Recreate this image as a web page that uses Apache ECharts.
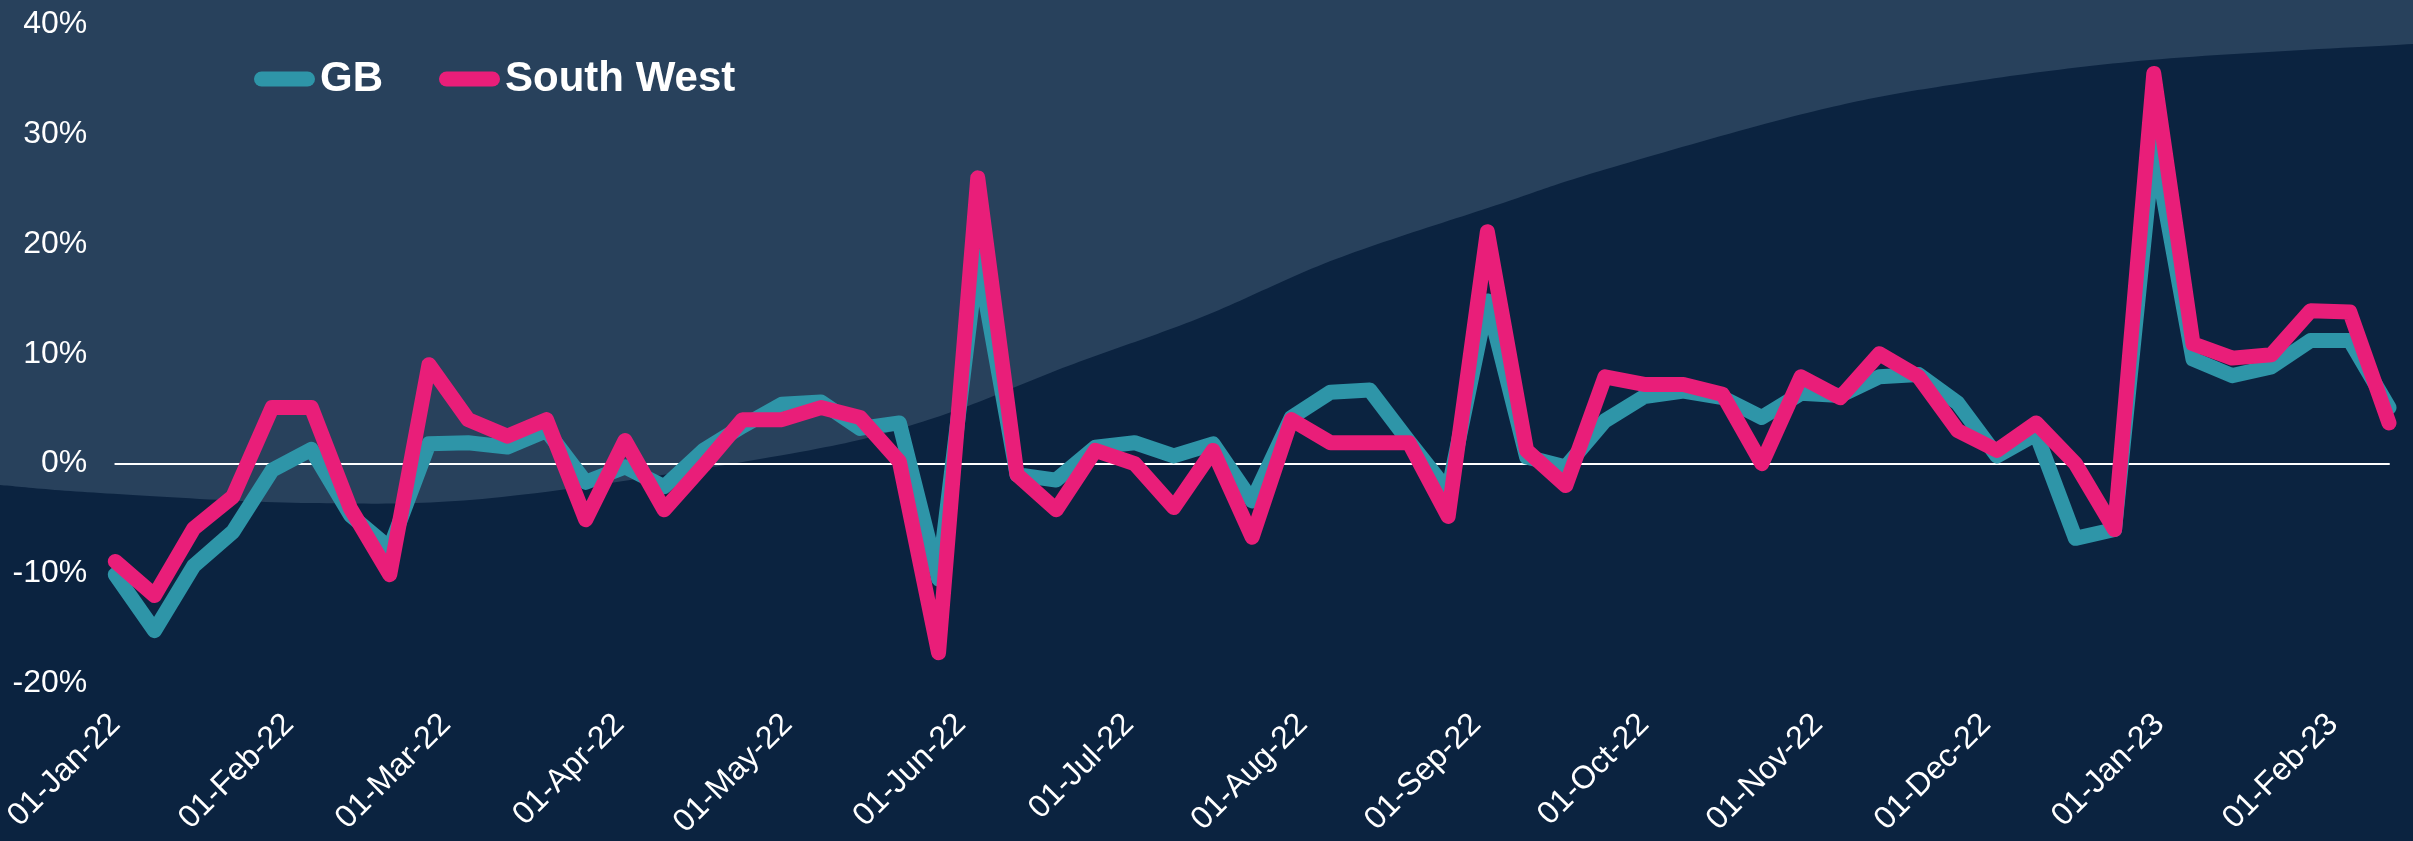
<!DOCTYPE html>
<html>
<head>
<meta charset="utf-8">
<title>GB vs South West</title>
<script src="https://cdn.jsdelivr.net/npm/echarts@6/dist/echarts.min.js"></script>
<style>
  html, body { margin: 0; padding: 0; background: #0b2340; }
  #chart { width: 2413px; height: 841px; }
</style>
</head>
<body>
<div id="chart"></div>
<script>
// weekly points
const weekDates = [
  '2022-01-01', '2022-01-08', '2022-01-15', '2022-01-22', '2022-01-29',
  '2022-02-05', '2022-02-12', '2022-02-19', '2022-02-26', '2022-03-05',
  '2022-03-12', '2022-03-19', '2022-03-26', '2022-04-02', '2022-04-09',
  '2022-04-16', '2022-04-23', '2022-04-30', '2022-05-07', '2022-05-14',
  '2022-05-21', '2022-05-28', '2022-06-04', '2022-06-11', '2022-06-18',
  '2022-06-25', '2022-07-02', '2022-07-09', '2022-07-16', '2022-07-23',
  '2022-07-30', '2022-08-06', '2022-08-13', '2022-08-20', '2022-08-27',
  '2022-09-03', '2022-09-10', '2022-09-17', '2022-09-24', '2022-10-01',
  '2022-10-08', '2022-10-15', '2022-10-22', '2022-10-29', '2022-11-05',
  '2022-11-12', '2022-11-19', '2022-11-26', '2022-12-03', '2022-12-10',
  '2022-12-17', '2022-12-24', '2022-12-31', '2023-01-07', '2023-01-14',
  '2023-01-21', '2023-01-28', '2023-02-04', '2023-02-11'
];

const gbValues = [
  -10.1, -15.2, -9.3, -6.2, -0.6,
  1.3, -4.7, -7.7, 1.8, 1.9,
  1.5, 3.0, -1.7, -0.3, -2.1,
  1.2, 3.4, 5.4, 5.6, 3.2,
  3.7, -10.5, 18.9, -1.0, -1.5,
  1.5, 1.9, 0.7, 1.8, -3.4,
  4.2, 6.5, 6.7, 2.0, -2.5,
  14.8, 0.6, -0.3, 3.9, 6.1,
  6.6, 6.0, 4.2, 6.4, 6.2,
  7.9, 8.1, 5.5, 0.7, 2.7,
  -6.8, -6.0, 29.0, 9.5, 8.0,
  8.8, 11.2, 11.2, 5.1
];

const southWestValues = [
  -8.9, -12.0, -5.9, -3.0, 5.1,
  5.1, -4.1, -10.1, 9.0, 4.0,
  2.5, 4.0, -5.1, 2.1, -4.2,
  -0.2, 4.0, 4.0, 5.1, 4.2,
  0.2, -17.2, 26.0, -1.0, -4.2,
  1.2, 0.0, -4.0, 1.2, -6.7,
  4.0, 1.9, 1.9, 1.9, -4.8,
  21.1, 1.2, -2.0, 7.9, 7.2,
  7.2, 6.3, 0.0, 7.9, 6.0,
  10.0, 7.9, 3.0, 1.2, 3.7,
  0.0, -6.0, 35.5, 10.9, 9.6,
  9.9, 13.9, 13.8, 3.7
];

const monthTicks = [
  '2022-01-01', '2022-02-01', '2022-03-01', '2022-04-01', '2022-05-01',
  '2022-06-01', '2022-07-01', '2022-08-01', '2022-09-01', '2022-10-01',
  '2022-11-01', '2022-12-01', '2023-01-01', '2023-02-01'
];

const yMin = -20;
const yMax = 40;
const yStep = 10;

const MONTHS = ['Jan', 'Feb', 'Mar', 'Apr', 'May', 'Jun', 'Jul', 'Aug', 'Sep', 'Oct', 'Nov', 'Dec'];
const DAY = 86400000;

function toTime(s) {
  const p = s.split('-');
  return new Date(+p[0], +p[1] - 1, +p[2]).getTime();
}

const baseTime = toTime(weekDates[0]);

// x positions are whole days since the first week
function toDay(s) {
  return Math.round((toTime(s) - baseTime) / DAY);
}

function fmtDay(day) {
  const d = new Date(baseTime + Math.round(day) * DAY + DAY / 2);
  const dd = String(d.getDate()).padStart(2, '0');
  const yy = String(d.getFullYear()).slice(2);
  return dd + '-' + MONTHS[d.getMonth()] + '-' + yy;
}

// light wave behind the plot (decoration only)
const wavePoints = [
  [0, 485], [100, 493], [310, 503], [502, 497], [800, 452], [934, 418],
  [1068, 366], [1202, 317], [1336, 259], [1500, 204], [1600, 171],
  [1807, 113], [1950, 85], [2150, 60], [2413, 44]
];

// catmull-rom through the wave points, sampled into a polygon
function wavePolygon(pts) {
  const out = [[0, 0], pts[0].slice()];
  for (let i = 0; i < pts.length - 1; i++) {
    const p0 = pts[i - 1] || pts[i];
    const p1 = pts[i];
    const p2 = pts[i + 1];
    const p3 = pts[i + 2] || p2;
    const c1 = [p1[0] + (p2[0] - p0[0]) / 6, p1[1] + (p2[1] - p0[1]) / 6];
    const c2 = [p2[0] - (p3[0] - p1[0]) / 6, p2[1] - (p3[1] - p1[1]) / 6];
    for (let s = 1; s <= 24; s++) {
      const t = s / 24, u = 1 - t;
      const a = u * u * u, b = 3 * u * u * t, c = 3 * u * t * t, e = t * t * t;
      out.push([
        a * p1[0] + b * c1[0] + c * c2[0] + e * p2[0],
        a * p1[1] + b * c1[1] + c * c2[1] + e * p2[1]
      ]);
    }
  }
  out.push([2413, 0]);
  return out;
}

const days = weekDates.map(toDay);
const gbData = days.map((x, i) => [x, gbValues[i]]);
const swData = days.map((x, i) => [x, southWestValues[i]]);
const xMin = days[0];
const xMax = days[days.length - 1];

const FONT = '"Liberation Sans", Arial, sans-serif';
const legendIcon = 'path://M7.5,0 L53.5,0 A7.5,7.5 0 0 1 53.5,15 L7.5,15 A7.5,7.5 0 0 1 7.5,0 Z';

const chart = echarts.init(document.getElementById('chart'));

const option = {
  animation: false,
  backgroundColor: '#0b2340',
  graphic: [{
    type: 'polygon',
    z: -1,
    silent: true,
    shape: { points: wavePolygon(wavePoints) },
    style: { fill: '#28415c' }
  }],
  legend: {
    left: 249,
    top: 53,
    itemWidth: 61,
    itemHeight: 15,
    itemGap: 56,
    icon: legendIcon,
    textStyle: { color: '#ffffff', fontSize: 42, fontWeight: 'bold', fontFamily: FONT },
    data: ['GB', 'South West']
  },
  grid: { left: 115, right: 24, top: 24, bottom: 150, containLabel: false },
  xAxis: [
    {
      type: 'value',
      min: xMin,
      max: xMax,
      axisLine: { show: true, onZero: true, lineStyle: { color: '#ffffff', width: 2 } },
      axisTick: { show: false },
      axisLabel: { show: false },
      splitLine: { show: false }
    },
    {
      type: 'value',
      position: 'bottom',
      min: xMin,
      max: xMax,
      axisLine: { show: false, onZero: false },
      axisTick: { show: false },
      splitLine: { show: false },
      axisLabel: {
        customValues: monthTicks.map(toDay),
        formatter: fmtDay,
        rotate: 45,
        margin: 36,
        color: '#ffffff',
        fontSize: 32,
        fontFamily: FONT,
        showMinLabel: true,
        showMaxLabel: true
      }
    }
  ],
  yAxis: {
    type: 'value',
    min: yMin,
    max: yMax,
    interval: yStep,
    axisLine: { show: false },
    axisTick: { show: false },
    splitLine: { show: false },
    axisLabel: {
      formatter: '{value}%',
      color: '#ffffff',
      fontSize: 32,
      fontFamily: FONT,
      margin: 28
    }
  },
  series: [
    {
      name: 'GB',
      type: 'line',
      xAxisIndex: 0,
      data: gbData,
      showSymbol: false,
      color: '#2e95a8',
      lineStyle: { color: '#2e95a8', width: 15, cap: 'round', join: 'round' },
      z: 3
    },
    {
      name: 'South West',
      type: 'line',
      xAxisIndex: 0,
      data: swData,
      showSymbol: false,
      color: '#e91e79',
      lineStyle: { color: '#e91e79', width: 15, cap: 'round', join: 'round' },
      z: 4
    }
  ]
};

chart.setOption(option);
</script>
</body>
</html>
